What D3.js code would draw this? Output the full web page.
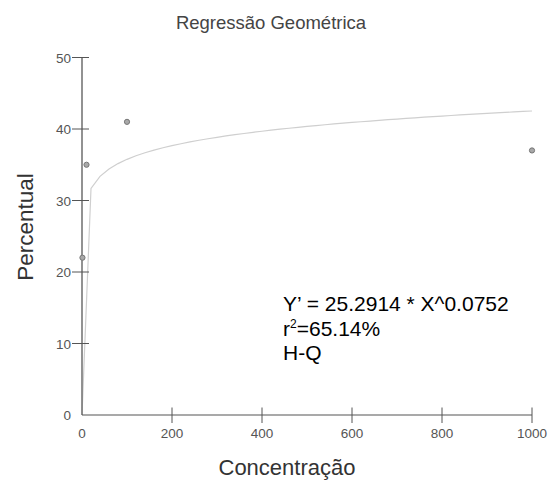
<!DOCTYPE html>
<html>
<head>
<meta charset="utf-8">
<script src="https://cdn.jsdelivr.net/npm/d3@7"></script>
<style>
  html, body { margin: 0; padding: 0; background: #fff; }
  svg { display: block; font-family: "Liberation Sans", Arial, sans-serif; }
</style>
</head>
<body>
<svg id="chart" width="550" height="482"></svg>
<script>
// Observed data
const concentracao = [1, 10, 100, 1000];
const percentual = [22, 35, 41, 37];

// Fitted geometric model Y' = a * X^b
const coefA = 25.2914;
const coefB = 0.0752;
const curveStep = 20;

const xTicks = [0, 200, 400, 600, 800, 1000];
const yTicks = [0, 10, 20, 30, 40, 50];

const titulo = "Regressão Geométrica";
const rotuloX = "Concentração";
const rotuloY = "Percentual";
const equacao = "Y\u2019 = 25.2914 * X^0.0752";
const r2Texto = "=65.14%";
const grupo = "H-Q";

const svg = d3.select("#chart");
const x = d3.scaleLinear().domain([0, 1000]).range([82, 532]);
const y = d3.scaleLinear().domain([0, 50]).range([415, 57.5]);

// Title
svg.append("text")
  .attr("x", 271).attr("y", 29)
  .attr("text-anchor", "middle")
  .attr("font-size", 18.5).attr("fill", "#444")
  .text(titulo);

// Fitted curve, sampled along X
const curvePts = d3.range(0, 1000 + curveStep, curveStep)
  .map(v => [v, v === 0 ? 0 : coefA * Math.pow(v, coefB)]);
svg.append("path")
  .datum(curvePts)
  .attr("fill", "none")
  .attr("stroke", "#cfcfcf")
  .attr("stroke-width", 1.2)
  .attr("d", d3.line().x(d => x(d[0])).y(d => y(d[1])));

// Y axis
const yAxis = svg.append("g").attr("transform", `translate(${x(0)},0)`);
yAxis.append("line")
  .attr("y1", y(50)).attr("y2", y(0))
  .attr("stroke", "#777").attr("stroke-width", 1.6);
yAxis.selectAll("line.tick")
  .data(yTicks.filter(d => d !== 0))
  .join("line").attr("class", "tick")
  .attr("x1", -10).attr("x2", 7)
  .attr("y1", d => y(d)).attr("y2", d => y(d))
  .attr("stroke", "#555").attr("stroke-width", 1);
yAxis.selectAll("text")
  .data(yTicks)
  .join("text")
  .attr("x", -11).attr("y", d => y(d) + 5)
  .attr("text-anchor", "end")
  .attr("font-size", 13.5).attr("fill", "#555")
  .text(d => d);

// X axis
const xAxis = svg.append("g").attr("transform", `translate(0,${y(0)})`);
xAxis.append("line")
  .attr("x1", x(0)).attr("x2", x(1000))
  .attr("stroke", "#555").attr("stroke-width", 1.2);
xAxis.selectAll("line.tick")
  .data(xTicks.filter(d => d !== 0))
  .join("line").attr("class", "tick")
  .attr("x1", d => x(d)).attr("x2", d => x(d))
  .attr("y1", -7.5).attr("y2", 8)
  .attr("stroke", "#555").attr("stroke-width", 1);
xAxis.selectAll("text")
  .data(xTicks)
  .join("text")
  .attr("x", d => x(d)).attr("y", 23)
  .attr("text-anchor", "middle")
  .attr("font-size", 13.5).attr("fill", "#555")
  .text(d => d);

// Axis titles
svg.append("text")
  .attr("x", 287).attr("y", 475)
  .attr("text-anchor", "middle")
  .attr("font-size", 22).attr("fill", "#333")
  .text(rotuloX);
svg.append("text")
  .attr("transform", "translate(33,227) rotate(-90)")
  .attr("text-anchor", "middle")
  .attr("font-size", 22.5).attr("fill", "#333")
  .text(rotuloY);

// Observations
svg.selectAll("circle.obs")
  .data(concentracao.map((c, i) => [c, percentual[i]]))
  .join("circle").attr("class", "obs")
  .attr("cx", d => x(d[0])).attr("cy", d => y(d[1]))
  .attr("r", 2.6)
  .attr("fill", "#a8a8a8").attr("stroke", "#777").attr("stroke-width", 1);

// Model annotation
const ann = svg.append("g").attr("font-size", 21).attr("fill", "#000");
ann.append("text").attr("x", 283).attr("y", 311).text(equacao);
const r2 = ann.append("text").attr("x", 283).attr("y", 336);
r2.append("tspan").text("r");
r2.append("tspan").attr("font-size", 12).attr("dy", -8).text("2");
r2.append("tspan").attr("dy", 8).text(r2Texto);
ann.append("text").attr("x", 283).attr("y", 360).text(grupo);
</script>
</body>
</html>
